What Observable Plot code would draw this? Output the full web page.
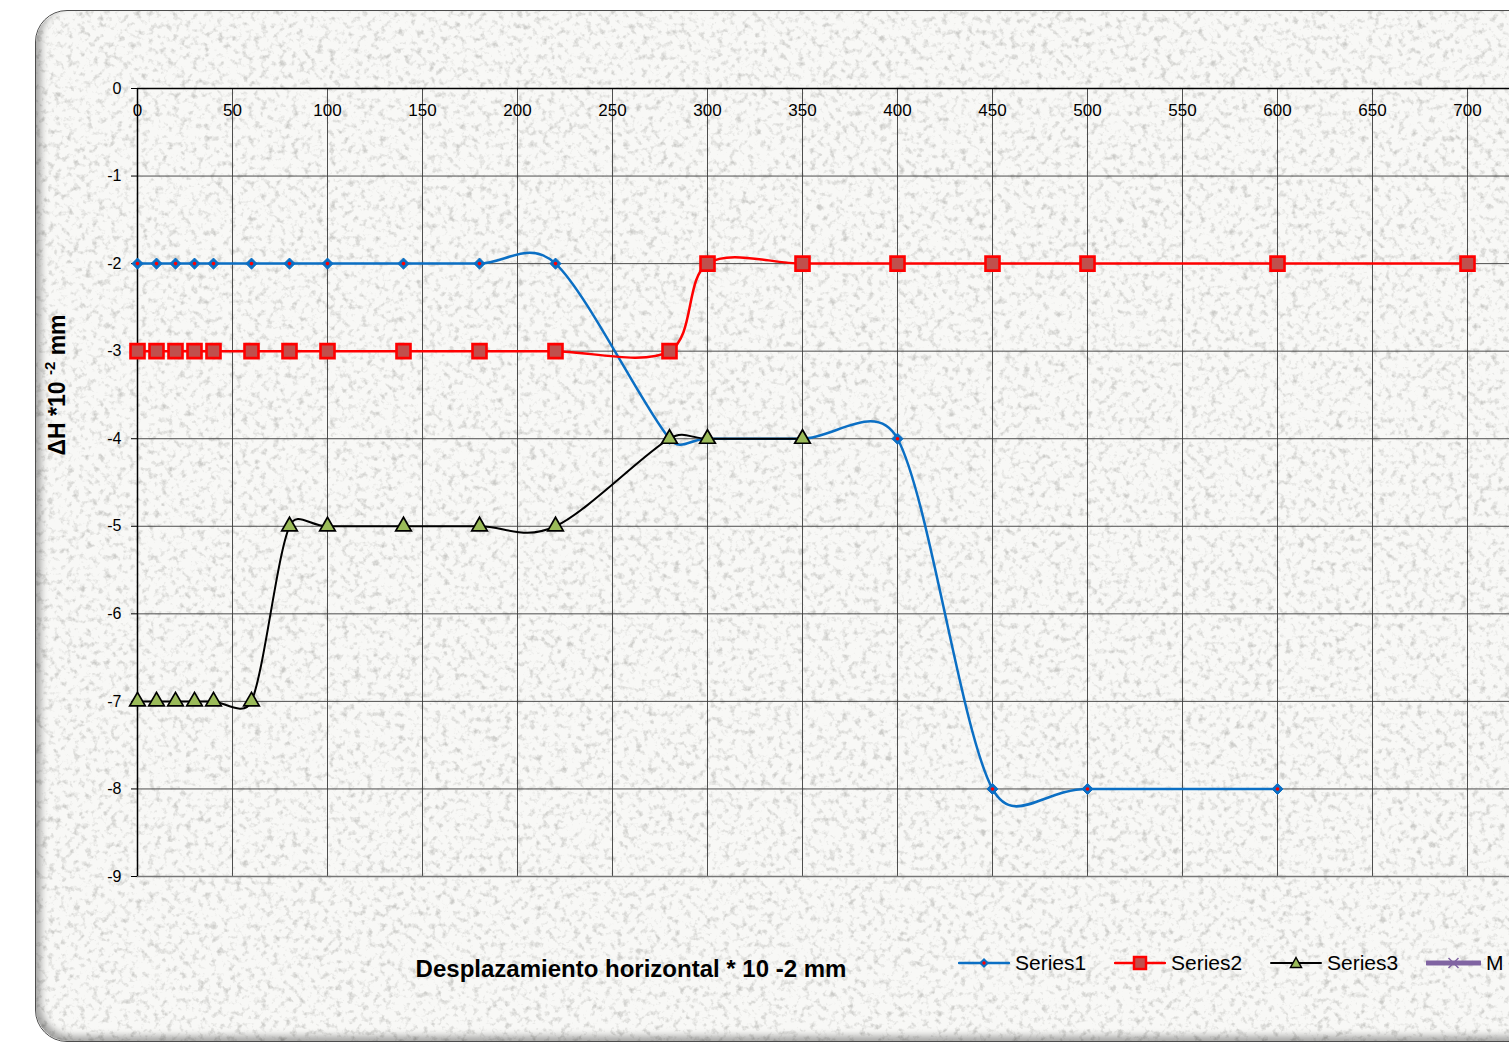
<!DOCTYPE html>
<html>
<head>
<meta charset="utf-8">
<script src="https://cdn.jsdelivr.net/npm/d3@7"></script>
<script src="https://cdn.jsdelivr.net/npm/@observablehq/plot@0.6"></script>
<style>
  html, body { margin: 0; padding: 0; background: #ffffff; overflow: hidden; }
  #wrap { position: relative; width: 1509px; height: 1045px; overflow: hidden; font-family: "Liberation Sans", Arial, sans-serif; }
  #bg { position: absolute; left: 35px; top: 10px; width: 1600px; height: 1030px; border: 1.5px solid #4d4d4d; border-radius: 32px; overflow: hidden; background: #f8f8f6; }
  #bg svg { position: absolute; left: 0; top: 0; }
  #shade { position: absolute; left: 0; top: 0; right: 0; bottom: 0; border-radius: 32px; box-shadow: inset 5px -5px 7px rgba(0,0,0,0.33); }
  #chart { position: absolute; left: 0; top: 0; }
  .title { position: absolute; font-weight: bold; color: #000; white-space: nowrap; }
  #xtitle { font-size: 24px; left: 631px; top: 969px; transform: translate(-50%, -50%); }
  #ytitle { font-size: 23px; left: 57px; top: 385px; transform: translate(-50%, -50%) rotate(-90deg); }
  #ytitle sup { font-size: 15px; position: relative; top: -2px; }
  #legend { position: absolute; left: 958px; top: 951px; display: flex; align-items: center; font-size: 21px; white-space: nowrap; }
  .item { display: flex; align-items: center; width: 156px; flex: none; }
  .item svg { margin-right: 5px; flex: none; }
</style>
</head>
<body>
<div id="wrap">
  <div id="bg">
    <svg width="1600" height="1030">
      <defs>
        <filter id="noise" x="0" y="0" width="100%" height="100%">
          <feTurbulence type="fractalNoise" baseFrequency="0.16" numOctaves="3" seed="7" result="t"/>
          <feColorMatrix type="matrix" values="0 0 0 0 0.6  0 0 0 0 0.6  0 0 0 0 0.58  3 0 0 0 -1.55"/>
        </filter>
      </defs>
      <rect x="0" y="0" width="1600" height="1030" filter="url(#noise)"/>
    </svg>
    <div id="shade"></div>
  </div>
  <div id="chart"></div>
  <div class="title" id="xtitle">Desplazamiento horizontal * 10 -2 mm</div>
  <div class="title" id="ytitle">ΔH *10 <sup>-2</sup> mm</div>
  <div id="legend"></div>
</div>
<script>
// ---- data ----
const xSeries1 = [0,10,20,30,40,60,80,100,140,180,220,280,300,350,400,450,500,600];
const ySeries1 = [-2,-2,-2,-2,-2,-2,-2,-2,-2,-2,-2,-4,-4,-4,-4,-8,-8,-8];
const xSeries2 = [0,10,20,30,40,60,80,100,140,180,220,280,300,350,400,450,500,600,700];
const ySeries2 = [-3,-3,-3,-3,-3,-3,-3,-3,-3,-3,-3,-3,-2,-2,-2,-2,-2,-2,-2];
const xSeries3 = [0,10,20,30,40,60,80,100,140,180,220,280,300,350];
const ySeries3 = [-7,-7,-7,-7,-7,-7,-5,-5,-5,-5,-5,-4,-4,-4];
const xTicks = [0,50,100,150,200,250,300,350,400,450,500,550,600,650,700];
const yTicks = [0,-1,-2,-3,-4,-5,-6,-7,-8,-9];
const seriesNames = ["Series1","Series2","Series3","M -"];

const s1 = xSeries1.map((x,i)=>({x, y: ySeries1[i]}));
const s2 = xSeries2.map((x,i)=>({x, y: ySeries2[i]}));
const s3 = xSeries3.map((x,i)=>({x, y: ySeries3[i]}));

const blue = "#0b6fc4", red = "#ff0000", redFill = "#c0504d", green = "#9bbb59", purple = "#8064a2";

// Spreadsheet-style smoothed line: Catmull-Rom tangents with control
// vectors capped relative to the segment length (limits overshoot).
function smoothCurve(context) {
  let pts = [];
  const K = 0.47;
  return {
    areaStart() {}, areaEnd() {},
    lineStart() { pts = []; },
    point(x, y) { pts.push([+x, +y]); },
    lineEnd() {
      const n = pts.length;
      if (!n) return;
      context.moveTo(pts[0][0], pts[0][1]);
      if (n === 1) return;
      const tan = i => {
        const a = pts[Math.max(0, i - 1)], b = pts[Math.min(n - 1, i + 1)];
        const f = (i === 0 || i === n - 1) ? 1 / 3 : 1 / 6;
        return [(b[0] - a[0]) * f, (b[1] - a[1]) * f];
      };
      const cap = (v, seg) => {
        const L = Math.hypot(v[0], v[1]);
        if (L > K * seg && L > 0) { const s = K * seg / L; return [v[0] * s, v[1] * s]; }
        return v;
      };
      for (let i = 0; i < n - 1; i++) {
        const A = pts[i], B = pts[i + 1];
        const seg = Math.hypot(B[0] - A[0], B[1] - A[1]);
        const tA = cap(tan(i), seg), tB = cap(tan(i + 1), seg);
        context.bezierCurveTo(A[0] + tA[0], A[1] + tA[1], B[0] - tB[0], B[1] - tB[1], B[0], B[1]);
      }
    }
  };
}

const chart = Plot.plot({
  width: 1509,
  height: 1045,
  marginLeft: 137,
  marginRight: 0,
  marginTop: 88,
  marginBottom: 169,
  x: {domain: [0, 722.1]},
  y: {domain: [-9, 0]},
  style: {background: "transparent", fontFamily: "'Liberation Sans', Arial, sans-serif", fontSize: "16px", color: "#000"},
  marks: [
    Plot.gridX(xTicks, {stroke: "#3c3c3c", strokeOpacity: 0.9, strokeWidth: 1}),
    Plot.gridY(yTicks, {stroke: "#3c3c3c", strokeOpacity: 0.9, strokeWidth: 1}),
    Plot.ruleY([-9], {stroke: "#777", strokeWidth: 1.5}),
    Plot.ruleX([0], {stroke: "#000", strokeWidth: 1.5}),
    Plot.ruleY([0], {stroke: "#000", strokeWidth: 1.5}),
    Plot.axisY({ticks: yTicks, tickSize: 6, tickPadding: 10, tickFormat: d => String(d), label: null, fontSize: 16}),
    Plot.axisX({ticks: [], label: null}),
    Plot.text(xTicks, {x: d => d, y: () => 0, dy: 22, text: d => String(d), fontSize: 17}),
    Plot.line(s1, {x: "x", y: "y", stroke: blue, strokeWidth: 2.5, curve: smoothCurve}),
    Plot.line(s2, {x: "x", y: "y", stroke: red, strokeWidth: 2.5, curve: smoothCurve}),
    Plot.line(s3, {x: "x", y: "y", stroke: "#000", strokeWidth: 2, curve: smoothCurve}),
    Plot.dot(s1, {x: "x", y: "y", symbol: "diamond2", r: 5, fill: blue, stroke: blue, strokeWidth: 1}),
    Plot.dot(s1, {x: "x", y: "y", symbol: "circle", r: 1.8, fill: red}),
    Plot.dot(s2, {x: "x", y: "y", symbol: "square", r: 7.9, fill: redFill, stroke: red, strokeWidth: 2.6}),
    Plot.dot(s3, {x: "x", y: "y", symbol: "triangle", r: 5.8, fill: green, stroke: "#000", strokeWidth: 1.7})
  ]
});
document.getElementById("chart").appendChild(chart);

// ---- legend ----
const legendSpecs = [
  {name: seriesNames[0], line: blue, lw: 2.5, sym: "diamond"},
  {name: seriesNames[1], line: red, lw: 2.5, sym: "square"},
  {name: seriesNames[2], line: "#000", lw: 2, sym: "triangle"},
  {name: seriesNames[3], line: purple, lw: 5, sym: "x"}
];
const legend = document.getElementById("legend");
for (const s of legendSpecs) {
  const item = document.createElement("div");
  item.className = "item";
  let marker = "";
  const w = s.sym === "x" ? 55 : 52;
  const c = w / 2;
  if (s.sym === "diamond") marker = `<path d="M${c},5 L${c+5},10 L${c},15 L${c-5},10 Z" fill="${blue}"/><circle cx="${c}" cy="10" r="1.7" fill="${red}"/>`;
  if (s.sym === "square") marker = `<rect x="${c-6}" y="4" width="12" height="12" fill="${redFill}" stroke="${red}" stroke-width="2.5"/>`;
  if (s.sym === "triangle") marker = `<path d="M${c},4.5 L${c+5.5},14.5 L${c-5.5},14.5 Z" fill="${green}" stroke="#000" stroke-width="1.5"/>`;
  if (s.sym === "x") marker = `<path d="M${c-5},5 L${c+5},15 M${c+5},5 L${c-5},15" stroke="${purple}" stroke-width="1.5"/>`;
  item.innerHTML = `<svg width="${w}" height="20"><line x1="1" x2="${w-1}" y1="10" y2="10" stroke="${s.line}" stroke-width="${s.lw}" stroke-linecap="round"/>${marker}</svg><span>${s.name}</span>`;
  legend.appendChild(item);
}
</script>
</body>
</html>
